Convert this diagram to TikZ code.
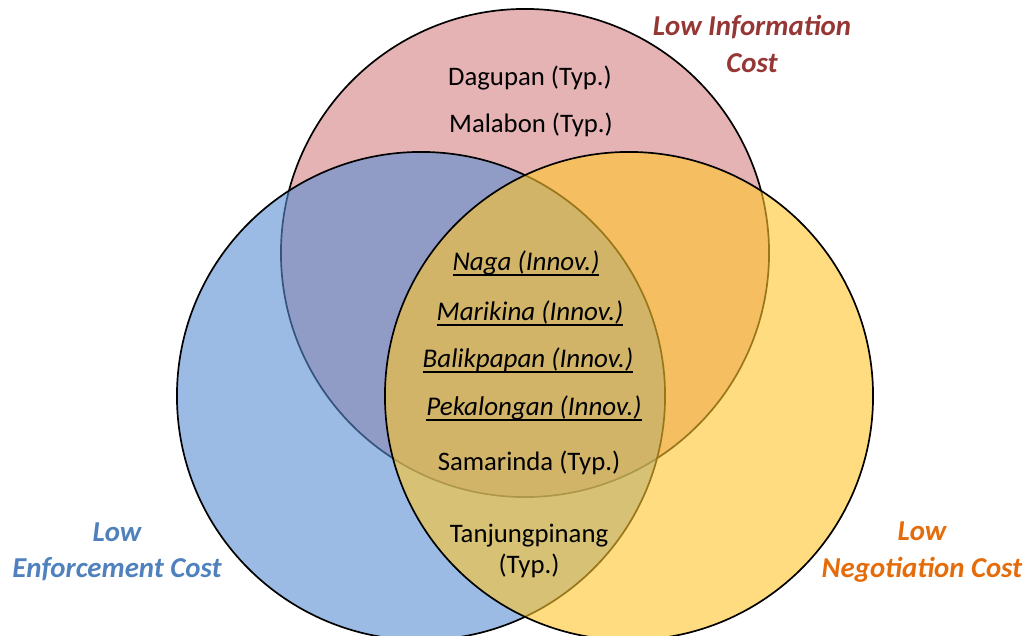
\documentclass[tikz,border=0pt]{standalone}
\usepackage{fontspec}
\setmainfont{Carlito}
\usepackage{tikz}
\usetikzlibrary{positioning}
\definecolor{infofill}{RGB}{212,128,130}
\definecolor{enffill}{RGB}{88,141,210}
\definecolor{negfill}{RGB}{255,197,42}
\definecolor{infotext}{RGB}{149,55,53}
\definecolor{enftext}{RGB}{79,129,189}
\definecolor{negtext}{RGB}{228,108,10}
% thick underline for the innovative cities
\newcommand{\thickul}[1]{\setbox0\hbox{#1}\rlap{\rule[-4pt]{\wd0}{1.3pt}}\box0}

\begin{document}
\begin{tikzpicture}[
  x=0.025cm, y=-0.025cm,
  font=\fontsize{19}{22}\selectfont,
  % --- sets and labels ---
  setc/.style   ={draw=black,line width=1.2pt,fill opacity=0.6},
  city/.style   ={text=black,inner sep=1pt},
  innov/.style  ={city,font=\fontsize{19.2}{22}\selectfont\itshape},
  setlbl/.style ={align=center,inner sep=1pt,
                  font=\fontsize{20.5}{26}\selectfont\bfseries\itshape},
]
\useasboundingbox (0,0) rectangle (1033,636);

% ================================ the three sets ===========================
\draw[setc,fill=infofill] (525,253) circle [radius=6.1cm];
\draw[setc,fill=enffill]  (421,396) circle [radius=6.1cm];
\draw[setc,fill=negfill]  (629,396) circle [radius=6.1cm];

% ================================= set names ===============================
\node[setlbl,text=infotext] (info) at (752,44) {Low Information\\Cost};
\node[setlbl,text=enftext]  (enf)  at (117,552) {Low\\Enforcement Cost};
\node[setlbl,text=negtext]  (neg)  at (922,552) {Low\\Negotiation Cost};

% ================================== cities =================================
\node[city] (dagupan) at (530,78)  {Dagupan (Typ.)};
\node[city] (malabon) at (531,125) {Malabon (Typ.)};

\node[innov] (naga)       at (526,263) {\thickul{Naga (Innov.)}};
\node[innov] (marikina)   at (530,313) {\thickul{Marikina (Innov.)}};
\node[innov] (balikpapan) at (528,360) {\thickul{Balikpapan (Innov.)}};
\node[innov] (pekalongan) at (534,408) {\thickul{Pekalongan (Innov.)}};
\node[city]  (samarinda)  at (529,463) {Samarinda (Typ.)};

\node[city,align=center] (tanjung) at (529,551) {Tanjungpinang\\(Typ.)};

\end{tikzpicture}
\end{document}
